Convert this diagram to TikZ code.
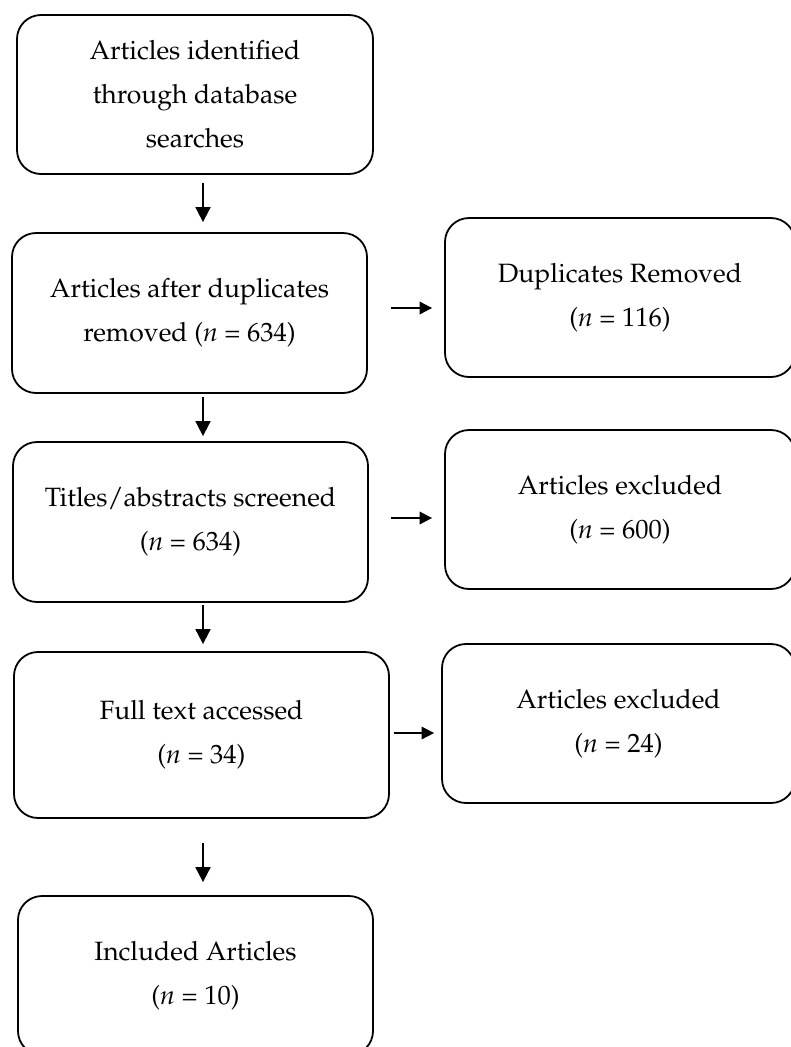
\documentclass[tikz,border=0pt]{standalone}
\usepackage[T1]{fontenc}
\usepackage{mathpazo}
\usetikzlibrary{arrows.meta}

\begin{document}
\begin{tikzpicture}[x=1pt, y=-1pt,
  stage/.style={rectangle, draw, line width=1.8pt, rounded corners=24pt,
    align=center, inner sep=0pt, font=\fontsize{26.5}{44}\selectfont,
    execute at begin node={\rule{0pt}{30pt}}},
  flow/.style={-{Triangle[width=15pt,length=15pt]}, line width=1.8pt},
  side/.style={-{Triangle[width=12.5pt,length=12.5pt]}, line width=1.8pt}
]
  \useasboundingbox (0,0) rectangle (790,1047);

  % Main column
  \node[stage, minimum width=356pt, minimum height=159pt] (ident) at (195,94.5)
    {Articles identified\\through database\\searches};
  \node[stage, minimum width=355pt, minimum height=160pt] (dedup) at (189.5,313)
    {Articles after duplicates\\removed (\textit{n} = 634)};
  \node[stage, minimum width=355pt, minimum height=160pt] (screen) at (190.5,522)
    {Titles/abstracts screened\\(\textit{n} = 634)};
  \node[stage, minimum width=375pt, minimum height=166pt] (fulltext) at (201.5,735)
    {Full text accessed\\(\textit{n} = 34)};
  \node[stage, minimum width=355pt, minimum height=159pt] (incl) at (195.5,975.5)
    {Included Articles\\(\textit{n} = 10)};

  % Exclusions
  \node[stage, minimum width=350pt, minimum height=159pt] (dupl) at (620,297.5)
    {Duplicates Removed\\(\textit{n} = 116)};
  \node[stage, minimum width=350pt, minimum height=159pt] (excl) at (620,509.5)
    {Articles excluded\\(\textit{n} = 600)};
  \node[stage, minimum width=353pt, minimum height=159pt] (exclft) at (618.5,723.5)
    {Articles excluded\\(\textit{n} = 24)};

  % Arrows
  \coordinate (axis) at (203,0);
  \draw[flow, shorten <=8pt, shorten >=10pt] (ident.south -| axis) -- (dedup.north -| axis);
  \draw[flow, shorten <=3pt, shorten >=5pt] (dedup.south -| axis) -- (screen.north -| axis);
  \draw[flow, shorten <=2pt, shorten >=7pt] (screen.south -| axis) -- (fulltext.north -| axis);
  \draw[flow, shorten <=24pt, shorten >=13pt] (fulltext.south -| axis) -- (incl.north -| axis);

  \draw[side, shorten <=23pt, shorten >=12pt] ([yshift=5pt]dedup.east) -- ([yshift=5pt]dedup.east -| dupl.west);
  \draw[side, shorten <=22pt, shorten >=12pt] ([yshift=4pt]screen.east) -- ([yshift=4pt]screen.east -| excl.west);
  \draw[side, shorten <=4pt, shorten >=7pt] ([yshift=2pt]fulltext.east) -- ([yshift=2pt]fulltext.east -| exclft.west);
\end{tikzpicture}
\end{document}
